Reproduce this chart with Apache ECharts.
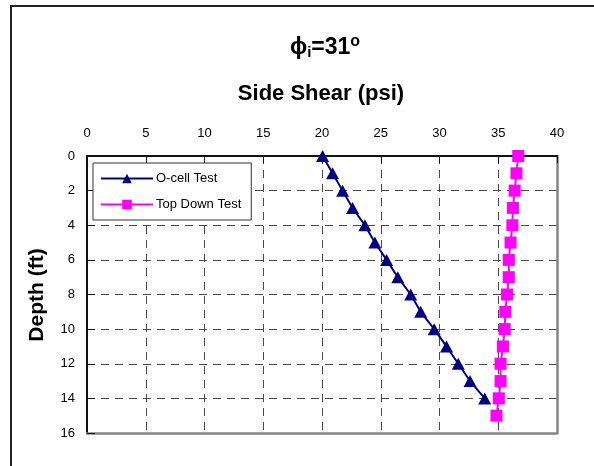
<!DOCTYPE html>
<html>
<head>
<meta charset="utf-8">
<script src="https://cdn.jsdelivr.net/npm/echarts@6/dist/echarts.min.js"></script>
<style>
  html, body { margin: 0; padding: 0; background: #ffffff; }
  #chart { width: 594px; height: 466px; }
</style>
</head>
<body>
<div id="chart"></div>
<script>
// Side shear profile with depth, O-cell vs top-down load test
const ocellDepth = [0, 1, 2, 3, 4, 5, 6, 7, 8, 9, 10, 11, 12, 13, 14];
const ocellShear = [20.05, 20.9, 21.75, 22.6, 23.65, 24.5, 25.5, 26.45, 27.55, 28.4, 29.55, 30.6, 31.6, 32.6, 33.85];

const topDownDepth = [0, 1, 2, 3, 4, 5, 6, 7, 8, 9, 10, 11, 12, 13, 14, 15];
const topDownShear = [36.7, 36.55, 36.4, 36.25, 36.2, 36.05, 35.9, 35.9, 35.75, 35.6, 35.55, 35.4, 35.2, 35.2, 35.05, 34.85];

const seriesNames = ['O-cell Test', 'Top Down Test'];
const shearRange = [0, 40, 5];
const depthRange = [0, 16, 2];

const FONT = 'Arial, "Liberation Sans", Helvetica, sans-serif';

function pairs(xs, ys) {
  return xs.map((x, i) => [x, ys[i]]);
}

const chart = echarts.init(document.getElementById('chart'), null, { renderer: 'canvas' });

const dashed = { show: true, lineStyle: { color: '#4a4a4a', width: 1, type: [8, 6] } };

chart.setOption({
  animation: false,
  backgroundColor: '#ffffff',
  grid: { left: 87, top: 156, width: 470, height: 277, containLabel: false },
  xAxis: [
    {
      type: 'value', position: 'top',
      min: shearRange[0], max: shearRange[1], interval: shearRange[2],
      axisLine: { show: true, onZero: false, lineStyle: { color: '#111', width: 2 } },
      axisTick: { show: true, inside: true, length: 7, lineStyle: { color: '#111', width: 1 } },
      axisLabel: { color: '#000', fontSize: 13, fontFamily: FONT, margin: 16 },
      splitLine: dashed
    },
    {
      type: 'value', position: 'bottom',
      min: shearRange[0], max: shearRange[1], interval: shearRange[2],
      axisLine: { show: true, onZero: false, lineStyle: { color: '#858585', width: 2.5 } },
      axisTick: { show: false }, axisLabel: { show: false }, splitLine: { show: false }
    }
  ],
  yAxis: [
    {
      type: 'value', inverse: true, position: 'left',
      min: depthRange[0], max: depthRange[1], interval: depthRange[2],
      axisLine: { show: true, onZero: false, lineStyle: { color: '#111', width: 2 } },
      axisTick: { show: true, inside: true, length: 8, lineStyle: { color: '#111', width: 1 } },
      axisLabel: { color: '#000', fontSize: 13, fontFamily: FONT, margin: 12 },
      splitLine: dashed
    },
    {
      type: 'value', inverse: true, position: 'right',
      min: depthRange[0], max: depthRange[1], interval: depthRange[2],
      axisLine: { show: true, onZero: false, lineStyle: { color: '#858585', width: 2.5 } },
      axisTick: { show: false }, axisLabel: { show: false }, splitLine: { show: false }
    }
  ],
  legend: {
    orient: 'vertical',
    left: 93, top: 163,
    padding: [9, 10, 9, 7],
    itemWidth: 52, itemHeight: 12, itemGap: 13,
    backgroundColor: '#ffffff',
    borderColor: '#333', borderWidth: 1, borderRadius: 0,
    textStyle: { color: '#000', fontSize: 13, fontFamily: FONT, padding: [0, 0, 0, -2] },
    data: seriesNames
  },
  series: [
    {
      name: seriesNames[0], type: 'line',
      data: pairs(ocellShear, ocellDepth),
      symbol: 'triangle', symbolSize: [13, 12],
      lineStyle: { color: '#000080', width: 2 },
      itemStyle: { color: '#000080' },
      z: 3
    },
    {
      name: seriesNames[1], type: 'line',
      data: pairs(topDownShear, topDownDepth),
      symbol: 'rect', symbolSize: 12,
      lineStyle: { color: '#ff00ff', width: 2 },
      itemStyle: { color: '#ff00ff' },
      z: 3
    }
  ],
  graphic: [
    {
      type: 'rect', silent: true, z: -1,
      shape: { x: 11, y: 6, width: 800, height: 800 },
      style: { fill: 'none', stroke: '#222', lineWidth: 2 }
    },
    {
      type: 'text', x: 325, y: 48,
      style: {
        text: '{g|ϕ}{s|i}{g|=31}{u|o}',
        align: 'center', verticalAlign: 'middle',
        rich: {
          g: { fontSize: 23, fontWeight: 'bold', fontFamily: FONT, fill: '#000' },
          s: { fontSize: 15, fontWeight: 'bold', fontFamily: FONT, fill: '#000', padding: [9, 0, 0, 0] },
          u: { fontSize: 16, fontWeight: 'bold', fontFamily: FONT, fill: '#000', padding: [0, 0, 13, 0] }
        }
      }
    },
    {
      type: 'text', x: 321, y: 94,
      style: {
        text: 'Side Shear (psi)', align: 'center', verticalAlign: 'middle',
        fontSize: 22, fontWeight: 'bold', fontFamily: FONT, fill: '#000'
      }
    },
    {
      type: 'text', x: 37, y: 295, rotation: Math.PI / 2,
      style: {
        text: 'Depth (ft)', align: 'center', verticalAlign: 'middle',
        fontSize: 21, fontWeight: 'bold', fontFamily: FONT, fill: '#000'
      }
    }
  ]
});
</script>
</body>
</html>
